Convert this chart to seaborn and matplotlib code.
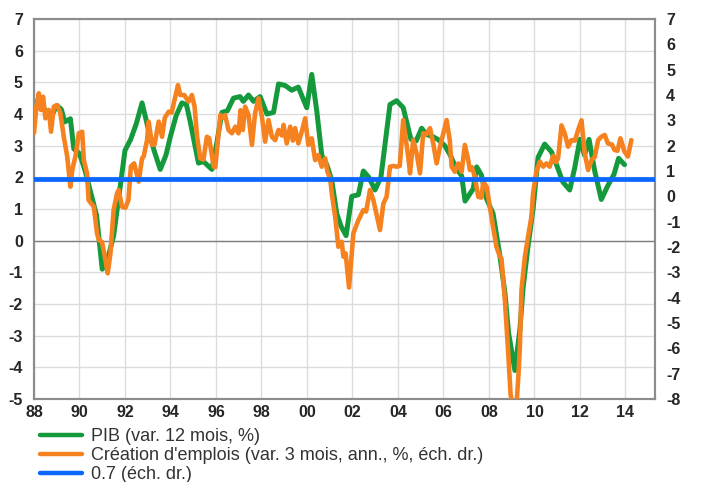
import matplotlib
matplotlib.use("Agg")
import matplotlib.pyplot as plt
from matplotlib.lines import Line2D
import pandas as pd
import seaborn as sns

# ---- data -------------------------------------------------------------
gdp_years = [1988.0, 1988.25, 1988.5, 1988.75, 1989.0, 1989.2, 1989.35, 1989.6, 1989.75,
             1990.0, 1990.25, 1990.5, 1990.75, 1991.0, 1991.25, 1991.5, 1991.75, 1992.0,
             1992.25, 1992.5, 1992.75, 1993.1, 1993.3, 1993.55, 1993.8, 1994.0, 1994.25,
             1994.5, 1994.7, 1994.87, 1995.23, 1995.45, 1995.82, 1996.04, 1996.26, 1996.5,
             1996.77, 1997.06, 1997.2, 1997.43, 1997.65, 1997.94, 1998.24, 1998.53, 1998.75,
             1999.04, 1999.33, 1999.62, 1999.99, 2000.21, 2000.43, 2000.65, 2000.87, 2001.09,
             2001.31, 2001.5, 2001.72, 2001.97, 2002.26, 2002.48, 2002.72, 2002.99, 2003.25,
             2003.65, 2003.94, 2004.23, 2004.57, 2004.8, 2005.04, 2005.26, 2005.55, 2005.75,
             2006.06, 2006.3, 2006.55, 2006.8, 2006.95, 2007.31, 2007.46, 2007.67, 2007.89,
             2008.18, 2008.48, 2008.7, 2008.86, 2009.14, 2009.36, 2009.5, 2009.72, 2009.94,
             2010.16, 2010.45, 2010.75, 2010.97, 2011.25, 2011.55, 2011.77, 2012.0, 2012.2,
             2012.4, 2012.65, 2012.94, 2013.2, 2013.5, 2013.7, 2013.96]
gdp_values = [4.35, 4.45, 4.1, 3.9, 4.27, 4.15, 3.75, 3.85, 2.9,
              2.75, 2.2, 1.5, 0.8, -0.9, -0.55, 0.15, 1.5, 2.85,
              3.2, 3.7, 4.35, 3.3, 2.8, 2.25, 2.7, 3.3, 3.95,
              4.35, 4.3, 3.75, 2.45, 2.5, 2.25, 3.1, 4.05, 4.1,
              4.5, 4.55, 4.4, 4.6, 4.4, 4.55, 4.0, 4.05, 4.95,
              4.9, 4.75, 4.85, 4.2, 5.25, 4.1, 2.7, 2.4, 1.9,
              0.85, 0.45, 0.16, 1.4, 1.45, 2.2, 2.0, 1.6, 2.0,
              4.3, 4.42, 4.2, 3.2, 3.15, 3.55, 3.35, 3.28, 3.2,
              3.0, 2.7, 2.3, 2.05, 1.25, 1.64, 2.33, 2.07, 1.33,
              0.86, -0.47, -1.63, -2.9, -4.1, -2.8, -1.5, -0.16, 1.0,
              2.63, 3.05, 2.8, 2.4, 1.85, 1.6, 2.3, 3.2, 2.7,
              3.2, 2.2, 1.3, 1.7, 2.1, 2.6, 2.4]

emp_years = [1988.0, 1988.1, 1988.21, 1988.3, 1988.4, 1988.5, 1988.65, 1988.75, 1988.87,
             1989.02, 1989.16, 1989.31, 1989.46, 1989.6, 1989.68, 1989.82, 1989.97, 1990.12,
             1990.19, 1990.33, 1990.4, 1990.63, 1990.77, 1990.85, 1990.99, 1991.14, 1991.24,
             1991.36, 1991.5, 1991.65, 1991.72, 1991.87, 1992.02, 1992.15, 1992.26, 1992.4,
             1992.6, 1992.75, 1992.82, 1992.97, 1993.04, 1993.19, 1993.3, 1993.48, 1993.63,
             1993.75, 1993.92, 1994.05, 1994.21, 1994.33, 1994.43, 1994.6, 1994.8, 1994.94,
             1995.06, 1995.17, 1995.31, 1995.45, 1995.6, 1995.7, 1995.9, 1995.97, 1996.19,
             1996.3, 1996.4, 1996.55, 1996.7, 1996.85, 1996.99, 1997.08, 1997.18, 1997.28,
             1997.43, 1997.58, 1997.72, 1997.87, 1998.02, 1998.16, 1998.31, 1998.46, 1998.6,
             1998.75, 1998.9, 1998.97, 1999.11, 1999.26, 1999.38, 1999.48, 1999.62, 1999.77,
             1999.92, 2000.06, 2000.21, 2000.36, 2000.5, 2000.65, 2000.8, 2000.9, 2001.02,
             2001.09, 2001.24, 2001.38, 2001.53, 2001.6, 2001.7, 2001.85, 2002.04, 2002.26,
             2002.48, 2002.6, 2002.77, 2002.92, 2003.21, 2003.36, 2003.5, 2003.65, 2003.8,
             2003.94, 2004.08, 2004.23, 2004.35, 2004.45, 2004.53, 2004.67, 2004.82, 2004.97,
             2005.11, 2005.25, 2005.41, 2005.55, 2005.7, 2005.85, 2006.14, 2006.28, 2006.36,
             2006.5, 2006.65, 2006.8, 2006.94, 2007.09, 2007.16, 2007.25, 2007.38, 2007.53,
             2007.67, 2007.75, 2007.9, 2008.04, 2008.18, 2008.33, 2008.48, 2008.55, 2008.7,
             2008.84, 2008.95, 2009.05, 2009.2, 2009.3, 2009.36, 2009.43, 2009.58, 2009.72,
             2009.87, 2009.94, 2010.09, 2010.24, 2010.38, 2010.53, 2010.67, 2010.82, 2010.95,
             2011.04, 2011.19, 2011.33, 2011.48, 2011.63, 2011.78, 2011.92, 2012.07, 2012.21,
             2012.36, 2012.51, 2012.65, 2012.8, 2012.94, 2013.09, 2013.23, 2013.4, 2013.52,
             2013.65, 2013.78, 2013.96, 2014.11, 2014.26]
emp_values = [2.5, 3.5, 4.07, 3.41, 3.93, 3.08, 3.41, 2.55, 3.54,
              3.6, 3.28, 2.35, 1.57, 0.38, 1.04, 1.57, 2.49, 2.55,
              1.43, 0.91, -0.15, -0.41, -1.46, -1.72, -1.8, -2.51, -3.04,
              -2.25, -0.54, 0.12, 0.25, -0.41, -0.45, -0.15, 1.18, 1.3,
              0.58, 1.5, 1.57, 2.22, 2.95, 2.03, 2.05, 2.95, 2.35,
              3.1, 3.34, 3.3, 3.93, 4.39, 4.0, 4.0, 3.74, 4.0,
              3.54, 2.35, 1.5, 1.45, 2.35, 2.3, 1.17, 1.15, 3.21,
              3.1, 3.21, 2.62, 2.49, 2.75, 2.49, 3.4, 2.62, 3.54,
              3.21, 2.03, 3.28, 3.87, 3.14, 2.16, 3.01, 2.35, 2.22,
              2.62, 2.4, 2.82, 2.09, 2.75, 2.2, 2.69, 2.09, 2.55,
              3.08, 2.03, 2.29, 1.43, 1.63, 1.17, 1.5, 0.97, 0.71,
              0.12, -0.8, -1.99, -1.79, -2.38, -2.25, -3.6, -1.46, -0.94,
              -0.54, -0.6, 0.25, -0.15, -1.33, -0.28, -0.02, 1.17, 1.2,
              1.17, 1.2, 3.01, 2.22, 1.57, 0.91, 2.22, 1.7, 0.91,
              2.49, 2.45, 2.69, 2.09, 1.3, 1.96, 3.01, 2.2, 1.17,
              0.97, 1.3, 0.97, 2.03, 1.43, 1.04, 1.15, 0.77, -0.02,
              -0.05, 0.58, 0.38, -0.41, -1.2, -1.99, -2.38, -2.45, -4.09,
              -6.07, -7.8, -8.4, -8.4, -7.0, -5.94, -3.7, -2.38, -1.59,
              -0.8, 0.12, 1.0, 1.37, 1.17, 1.3, 1.17, 1.6, 1.35,
              1.5, 2.8, 2.49, 1.96, 2.22, 2.2, 2.62, 3.0, 1.7,
              1.04, 1.43, 1.55, 2.22, 2.35, 2.42, 2.09, 2.05, 1.83,
              1.8, 2.29, 1.76, 1.57, 2.22]

threshold = 0.7
x_ticks = [1988, 1990, 1992, 1994, 1996, 1998, 2000, 2002, 2004, 2006, 2008, 2010, 2012, 2014]
x_tick_labels = ["88", "90", "92", "94", "96", "98", "00", "02", "04", "06", "08", "10", "12", "14"]
left_ticks = list(range(-5, 8))
right_ticks = list(range(-8, 8))
series_labels = ["PIB (var. 12 mois, %)",
                 "Création d'emplois (var. 3 mois, ann., %, éch. dr.)",
                 "0.7 (éch. dr.)"]

GREEN = "#14993d"
ORANGE = "#f6821f"
BLUE = "#0a66ff"

gdp_df = pd.DataFrame({"year": gdp_years, "value": gdp_values})
emp_df = pd.DataFrame({"year": emp_years, "value": emp_values})

# ---- style ------------------------------------------------------------
sns.set_theme(style="white")
plt.rcParams["font.family"] = ["Liberation Sans", "DejaVu Sans"]
plt.rcParams["axes.unicode_minus"] = False

fig = plt.figure(figsize=(7.07, 4.82), dpi=100)
ax = fig.add_axes([34 / 707, 1 - 399 / 482, 621 / 707, 380 / 482])
ax2 = ax.twinx()

sns.lineplot(data=gdp_df, x="year", y="value", ax=ax, color=GREEN, linewidth=3.6,
             legend=False, zorder=3)
sns.lineplot(data=emp_df, x="year", y="value", ax=ax2, color=ORANGE, linewidth=3.3,
             legend=False, zorder=3)
ax2.axhline(threshold, color=BLUE, linewidth=3.4, zorder=4)

ax.axhline(0, color="#808080", linewidth=1.0, zorder=2)

ax.set_xlim(1988, 2015.3)
ax.set_ylim(-5, 7)
ax2.set_ylim(-8, 7)

ax.set_xticks(x_ticks)
ax.set_xticklabels(x_tick_labels)
ax.set_yticks(left_ticks)
ax.set_yticklabels([str(v) for v in left_ticks])
ax2.set_yticks(right_ticks)
ax2.set_yticklabels([str(v) for v in right_ticks])

ax.grid(True, color="#dcdcdc", linewidth=1.0)
ax2.grid(False)
ax.set_axisbelow(True)

ax.set_xlabel("")
ax.set_ylabel("")
ax2.set_ylabel("")

tick_kw = dict(labelsize=11.5, labelcolor="#262626", length=0)
ax.tick_params(axis="y", pad=8, **tick_kw)
ax.tick_params(axis="x", pad=4, **tick_kw)
ax2.tick_params(axis="y", pad=8, **tick_kw)
for lab in ax.get_xticklabels() + ax.get_yticklabels() + ax2.get_yticklabels():
    lab.set_fontweight("bold")

for a in (ax, ax2):
    for s in a.spines.values():
        s.set_color("#8c8c8c")
        s.set_linewidth(1.5)

handles = [Line2D([], [], color=GREEN, linewidth=3.2),
           Line2D([], [], color=ORANGE, linewidth=3.2),
           Line2D([], [], color=BLUE, linewidth=3.2)]
fig.legend(handles, series_labels, loc="upper left", bbox_to_anchor=(40 / 707, 1 - 428 / 482),
           frameon=False, fontsize=13, handlelength=2.35, handletextpad=0.5,
           labelspacing=0.12, borderpad=0, borderaxespad=0, labelcolor="#333333")

fig.savefig("out.png", dpi=100)
